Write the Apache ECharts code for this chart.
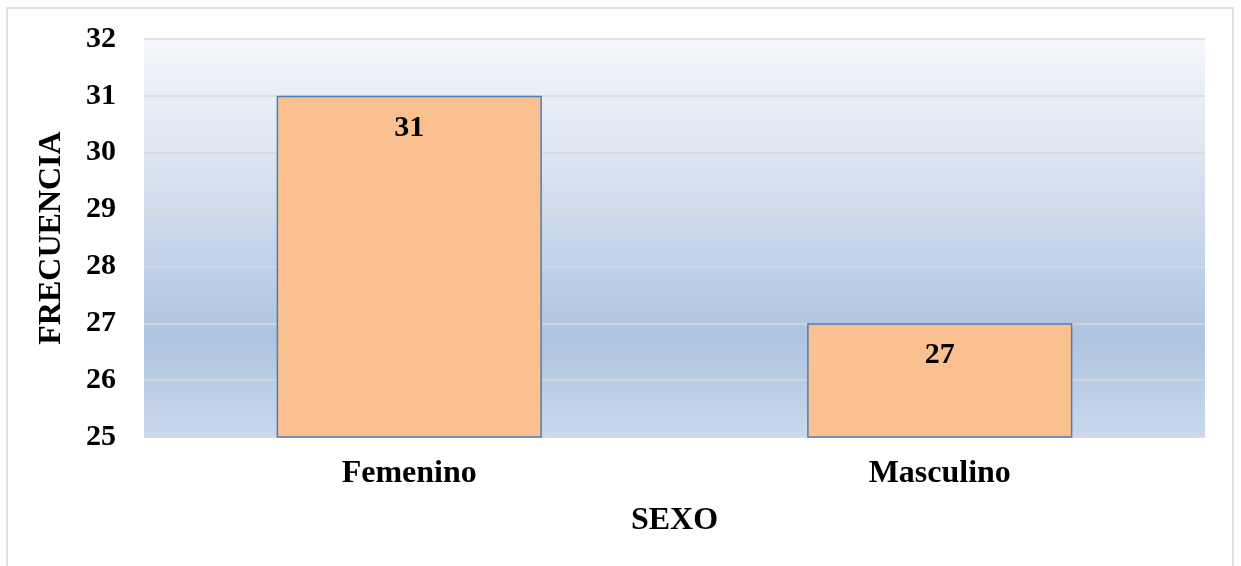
<!DOCTYPE html>
<html>
<head>
<meta charset="utf-8">
<title>Frecuencia por sexo</title>
<script src="https://cdn.jsdelivr.net/npm/echarts@6/dist/echarts.min.js"></script>
<style>
  html, body { margin: 0; padding: 0; background: #ffffff; }
  #chart { width: 1241px; height: 566px; }
</style>
</head>
<body>
<div id="chart"></div>
<script>
// Categories and counts
const categories = ['Femenino', 'Masculino'];
const frecuencia = [31, 27];
const axisMin = 25;
const axisMax = 32;
const axisStep = 1;

const serif = '"Liberation Serif", "Times New Roman", serif';

const chart = echarts.init(document.getElementById('chart'), null, { renderer: 'canvas' });

chart.setOption({
  animation: false,
  backgroundColor: '#ffffff',
  graphic: [{
    type: 'rect',
    shape: { x: 7, y: 8, width: 1226, height: 580 },
    style: { fill: 'none', stroke: '#d9d9d9', lineWidth: 1.5 },
    silent: true,
    z: -1
  }],
  grid: {
    left: 144,
    right: 36,
    top: 39,
    bottom: 129,
    show: true,
    borderWidth: 0,
    backgroundColor: {
      type: 'linear', x: 0, y: 0, x2: 0, y2: 1,
      colorStops: [
        { offset: 0, color: '#f4f7fb' },
        { offset: 0.3, color: '#dbe5f1' },
        { offset: 0.75, color: '#afc4e1' },
        { offset: 1, color: '#c9d8eb' }
      ]
    }
  },
  xAxis: {
    type: 'category',
    data: categories,
    name: 'SEXO',
    nameLocation: 'middle',
    nameGap: 68,
    nameTextStyle: { fontFamily: serif, fontWeight: 'bold', fontSize: 32, color: '#000' },
    axisLine: { show: true, lineStyle: { color: '#d9d9d9', width: 1.5 } },
    axisTick: { show: false },
    axisLabel: {
      fontFamily: serif, fontWeight: 'bold', fontSize: 32, color: '#000',
      margin: 21
    }
  },
  yAxis: {
    type: 'value',
    min: axisMin,
    max: axisMax,
    interval: axisStep,
    name: 'FRECUENCIA',
    nameLocation: 'middle',
    nameGap: 76,
    nameRotate: 90,
    nameTextStyle: { fontFamily: serif, fontWeight: 'bold', fontSize: 32, color: '#000' },
    axisLine: { show: false },
    axisTick: { show: false },
    axisLabel: {
      fontFamily: serif, fontWeight: 'bold', fontSize: 30, color: '#000',
      margin: 28
    },
    splitLine: { show: true, lineStyle: { color: '#d9d9d9', width: 1.5 } }
  },
  series: [{
    type: 'bar',
    data: frecuencia,
    barWidth: '50%',
    itemStyle: { color: '#fac090', borderColor: '#4a7ebb', borderWidth: 1.5 },
    label: {
      show: true,
      position: 'insideTop',
      distance: 17,
      fontFamily: serif, fontWeight: 'bold', fontSize: 30, color: '#000'
    }
  }]
});
</script>
</body>
</html>
